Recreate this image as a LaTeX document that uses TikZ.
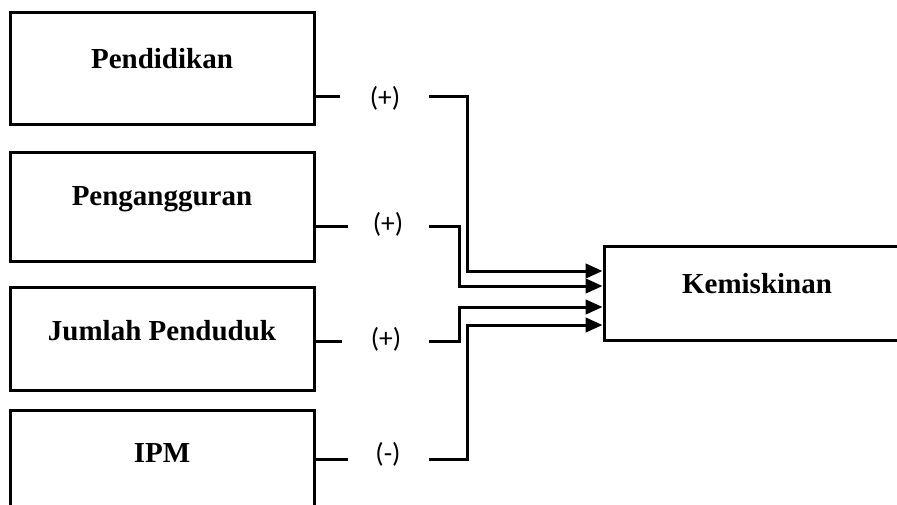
\documentclass[tikz,border=0pt]{standalone}
\usepackage{fontspec}
\setmainfont{Liberation Serif}
\newfontfamily\lblfont{Carlito}
\usetikzlibrary{arrows.meta}
\begin{document}
\begin{tikzpicture}[x=1pt,y=-1pt,
  box/.style={draw, line width=3pt, minimum width=304pt, inner sep=0pt},
  boxtext/.style={anchor=base, inner sep=0pt, font=\fontsize{29}{34}\selectfont\bfseries},
  sign/.style={inner sep=0pt, font=\lblfont\fontsize{27.5}{32}\selectfont},
  conn/.style={line width=3pt},
  arr/.style={line width=3pt, -{Triangle[length=17pt,width=14.5pt]}}]
\useasboundingbox (0,0) rectangle (897,504);
\clip (0,0) rectangle (897,504);
% boxes
\node[box, minimum height=112pt] (b1) at (162,68.5) {};
\node[box, minimum height=109pt] (b2) at (162,206.5) {};
\node[box, minimum height=103pt] (b3) at (162,338.5) {};
\node[box, minimum height=105pt] (b4) at (162,462.5) {};
\node[box, minimum width=306pt, minimum height=94pt] (k) at (757,293) {};
% texts
\node[boxtext] (t1) at (162,68) {Pendidikan};
\node[boxtext] (t2) at (162,205) {Pengangguran};
\node[boxtext] (t3) at (162,340) {Jumlah Penduduk};
\node[boxtext] (t4) at (162,462) {IPM};
\node[boxtext] (tk) at (757,293) {Kemiskinan};
% signs
\node[sign] (p1) at (385,98) {(+)};
\node[sign] (p2) at (388,224) {(+)};
\node[sign] (p3) at (386,339) {(+)};
\node[sign] (p4) at (388,454) {(-)};
% connector coordinates
\coordinate (s1) at (340,96);  \coordinate (r1) at (429,96);  \coordinate (v1) at (467,0); \coordinate (a1) at (0,271);
\coordinate (s2) at (348,226); \coordinate (r2) at (429,226); \coordinate (v2) at (459,0); \coordinate (a2) at (0,286);
\coordinate (s3) at (342,341); \coordinate (r3) at (429,341); \coordinate (v3) at (459,0); \coordinate (a3) at (0,307);
\coordinate (s4) at (348,459); \coordinate (r4) at (429,459); \coordinate (v4) at (467,0); \coordinate (a4) at (0,325);
% stubs
\draw[conn] (s1 -| b1.east) -- (s1);
\draw[conn] (s2 -| b2.east) -- (s2);
\draw[conn] (s3 -| b3.east) -- (s3);
\draw[conn] (s4 -| b4.east) -- (s4);
% arrows
\draw[arr] (r1) -- (r1 -| v1) -- (a1 -| v1) -- (a1 -| k.west);
\draw[arr] (r2) -- (r2 -| v2) -- (a2 -| v2) -- (a2 -| k.west);
\draw[arr] (r3) -- (r3 -| v3) -- (a3 -| v3) -- (a3 -| k.west);
\draw[arr] (r4) -- (r4 -| v4) -- (a4 -| v4) -- (a4 -| k.west);
\end{tikzpicture}
\end{document}
